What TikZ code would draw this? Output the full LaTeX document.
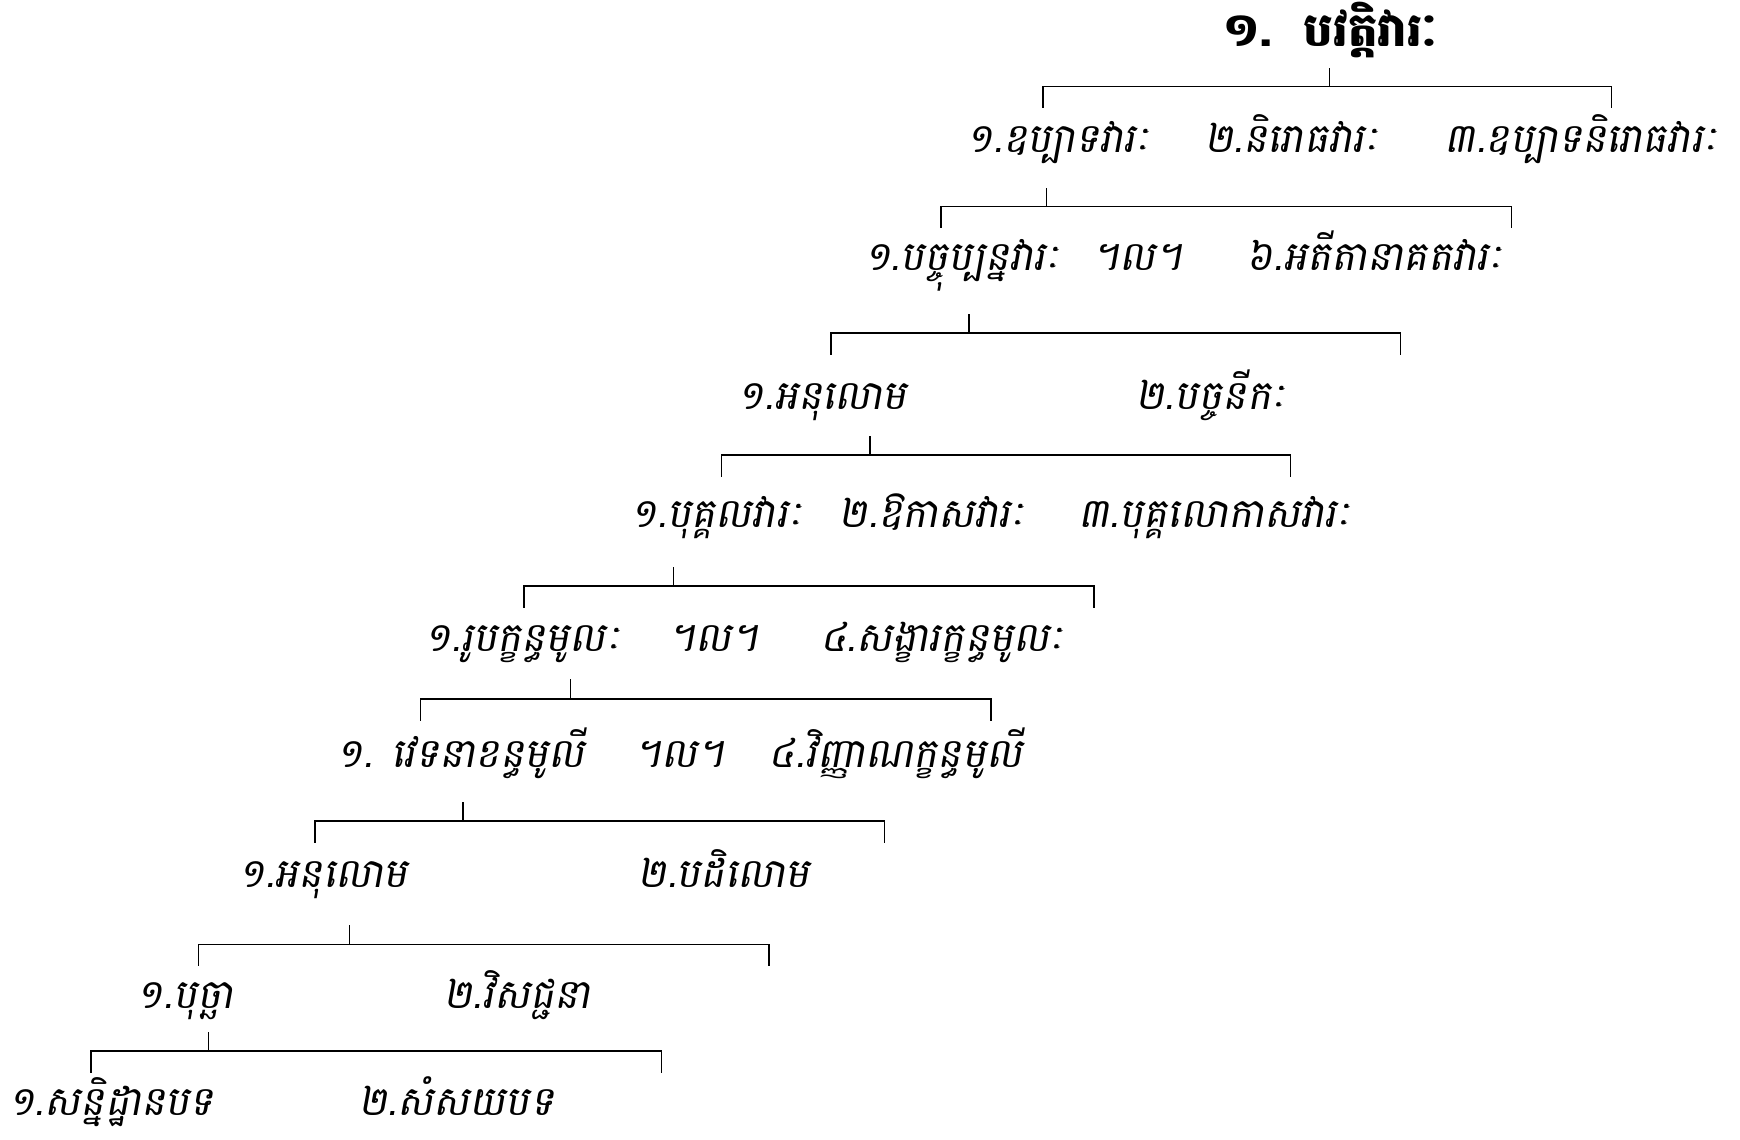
\documentclass[tikz,border=0pt]{standalone}
\usepackage{fontspec}
\newfontfamily\khup[Script=Khmer]{Battambang}
\newfontfamily\khit[Script=Khmer,FakeSlant=0.18]{Battambang}
\begin{document}
\begin{tikzpicture}[x=1pt,y=-1pt,
  lbl/.style={anchor=base,inner sep=0pt,font={\khit\fontsize{36.5}{44}\selectfont}},
  ttl/.style={anchor=base,inner sep=0pt,font={\khup\bfseries\fontsize{42}{50}\selectfont}},
  br/.style={line width=1.4pt,line cap=rect}]
\useasboundingbox (0,0) rectangle (1568,1027);
% level 1
\node[ttl] (a0) at (1199,42) {១.\ \ បវត្តិវារៈ};
% level 2
\node[lbl] (b1) at (954,137) {១.ឧប្បាទវារៈ};
\node[lbl] (b2) at (1164,137) {២.និរោធវារៈ};
\node[lbl] (b3) at (1425,137) {៣.ឧប្បាទនិរោធវារៈ};
% level 3
\node[lbl] (c1) at (867,244) {១.បច្ចុប្បន្នវារៈ};
\node[lbl] (c2) at (1025,244) {។ល។};
\node[lbl] (c3) at (1239,244) {៦.អតីតានាគតវារៈ};
% level 4
\node[lbl] (d1) at (741,369) {១.អនុលោម};
\node[lbl] (d2) at (1091,369) {២.បច្ចនីកៈ};
% level 5
\node[lbl] (e1) at (646,475) {១.បុគ្គលវារៈ};
\node[lbl] (e2) at (840,475) {២.ឱកាសវារៈ};
\node[lbl] (e3) at (1095,475) {៣.បុគ្គលោកាសវារៈ};
% level 6
\node[lbl] (f1) at (471,587) {១.រូបក្ខន្ធមូលៈ};
\node[lbl] (f2) at (643,587) {។ល។};
\node[lbl] (f3) at (849,587) {៤.សង្ខារក្ខន្ធមូលៈ};
% level 7
\node[lbl] (g1) at (415,692) {១. វេទនាខន្ធមូលី};
\node[lbl] (g2) at (612,692) {។ល។};
\node[lbl] (g3) at (807,692) {៤.វិញ្ញាណក្ខន្ធមូលី};
% level 8
\node[lbl] (h1) at (291,800) {១.អនុលោម};
\node[lbl] (h2) at (652,800) {២.បដិលោម};
% level 9
\node[lbl] (i1) at (167,909) {១.បុច្ឆា};
\node[lbl] (i2) at (466,909) {២.វិសជ្ជនា};
% level 10
\node[lbl] (j1) at (100,1005) {១.សន្និដ្ឋានបទ};
\node[lbl] (j2) at (411,1005) {២.សំសយបទ};
% brackets
\foreach \n/\s/\t/\h/\a/\b/\d in {
  1/1198/62/78/940/1452/97,
  2/943/170/186/848/1362/205,
  3/873/284/300/749/1262/319,
  4/784/394/410/650/1163/429,
  5/607/512/528/472/986/547,
  6/514/613/630/379/893/649,
  7/417/723/740/284/797/759,
  8/315/834/851/179/693/870,
  9/188/931/947/82/596/966}{
  \coordinate (t\n) at (\s,\t);
  \coordinate (k\n) at (\s,\h);
  \coordinate (l\n) at (\a,\d);
  \coordinate (r\n) at (\b,\d);
  \draw[br] (t\n) -- (k\n);
  \draw[br] (l\n) |- (k\n) -| (r\n);
}
\end{tikzpicture}
\end{document}
